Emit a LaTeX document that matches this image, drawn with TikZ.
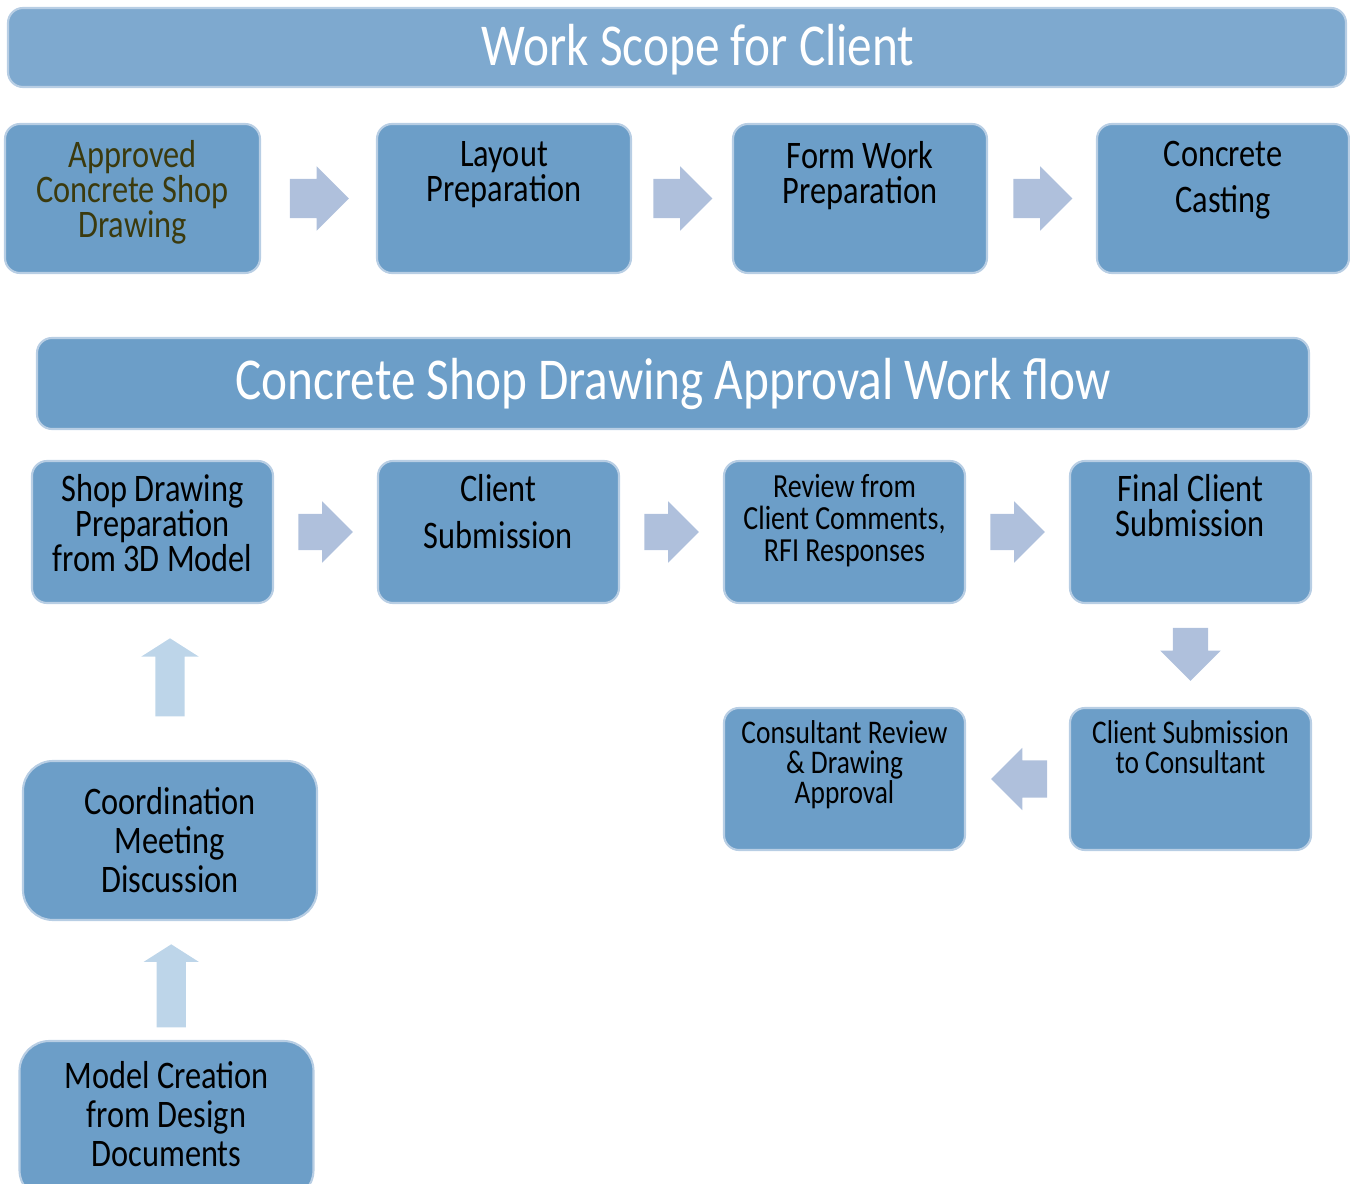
\documentclass[tikz,border=0pt]{standalone}
\usepackage{fontspec}
\setmainfont{Carlito}[FakeStretch=0.83]
\usetikzlibrary{shapes.arrows, positioning, calc}

\definecolor{boxblue}{RGB}{108,158,200}
\definecolor{barblue}{RGB}{126,169,207}
\definecolor{edgeblue}{RGB}{184,206,228}
\definecolor{arrowgrey}{RGB}{175,192,220}
\definecolor{arrowpale}{RGB}{189,213,233}
\definecolor{drawingolive}{RGB}{59,58,14}

\tikzset{
  box/.style={rectangle, rounded corners=0.15cm, fill=boxblue, draw=edgeblue, line width=0.6pt, inner sep=0},
  titlebar/.style={box, fill=barblue},
  toprow/.style={box, minimum width=2.54cm, minimum height=1.49cm},
  flowbox/.style={box, minimum width=2.41cm, minimum height=1.42cm},
  bigbox/.style={box, rounded corners=0.3cm, minimum width=2.94cm, minimum height=1.59cm},
  titletxt/.style={inner sep=0, text=white, font=\fontsize{16.9}{18}\selectfont},
  txt/.style={align=center, inner sep=0, font=\fontsize{11.1}{9.9}\selectfont},
  bigtxt/.style={txt, font=\fontsize{11.1}{11.1}\selectfont},
  smalltxt/.style={txt, font=\fontsize{9.6}{9.1}\selectfont},
  tinytxt/.style={txt, font=\fontsize{9.4}{8.5}\selectfont},
  bigarrow/.style={single arrow, fill=arrowgrey, inner sep=0.19cm, single arrow head extend=0.125cm, minimum height=0.59cm, xshift=-0.09cm},
  flowarrow/.style={single arrow, fill=arrowgrey, inner sep=0.175cm, single arrow head extend=0.125cm, minimum height=0.52cm},
  uparrow/.style={single arrow, fill=arrowpale, inner sep=0.14cm, single arrow head extend=0.14cm, single arrow tip angle=115, shape border rotate=90}
}

\begin{document}
\begin{tikzpicture}
\useasboundingbox (0,0) rectangle (13.5,-11.84);

% work scope row
\node[titlebar, minimum width=13.38cm, minimum height=0.79cm] (scope) at (6.77,-0.475) {};
\node[titletxt] at ($(scope.center)+(0.21,-0.02)$) {Work Scope for Client};

\node[toprow, minimum width=2.55cm] (asd) at (1.325,-1.985) {};
\node[toprow] (lay) at (5.04,-1.985) {};
\node[toprow] (form) at (8.60,-1.985) {};
\node[toprow, minimum width=2.52cm] (cast) at (12.23,-1.985) {};
\node[txt, text=drawingolive, below=0.17cm] at (asd.north) {Approved\\Concrete Shop\\Drawing};
\node[txt, below=0.18cm] at (lay.north) {Layout\\Preparation};
\node[txt, below=0.18cm] at (form.north) {Form Work\\Preparation};
\node[txt, below=0.18cm] at (cast.north) {Concrete\\[3pt]Casting};

\node[bigarrow] (s1) at ($(asd.east)!0.5!(lay.west)$) {};
\node[bigarrow] (s2) at ($(lay.east)!0.5!(form.west)$) {};
\node[bigarrow] (s3) at ($(form.east)!0.5!(cast.west)$) {};

% approval work flow
\node[titlebar, fill=boxblue, minimum width=12.72cm, minimum height=0.91cm] (flow) at (6.73,-3.835) {};
\node[titletxt] at (flow.center) {Concrete Shop Drawing Approval Work flow};

\node[flowbox] (spd) at (1.525,-5.32) {};
\node[flowbox] (csub) at (4.985,-5.32) {};
\node[flowbox] (rev) at (8.445,-5.32) {};
\node[flowbox] (fin) at (11.905,-5.32) {};
\node[flowbox] (cons) at (8.445,-7.79) {};
\node[flowbox] (csc) at (11.905,-7.79) {};
\node[txt, below=0.14cm] at (spd.north) {Shop Drawing\\Preparation\\from 3D Model};
\node[txt, below=0.14cm] at (csub.north) {Client\\[3.4pt]Submission};
\node[smalltxt, below=0.14cm] at (rev.north) {Review from\\Client Comments,\\RFI Responses};
\node[txt, below=0.14cm] at (fin.north) {Final Client\\Submission};
\node[tinytxt, below=0.13cm] at (csc.north) {Client Submission\\to Consultant};
\node[tinytxt, below=0.13cm] at (cons.north) {Consultant Review\\\& Drawing\\Approval};

\node[flowarrow, xshift=-0.09cm] (f1) at ($(spd.east)!0.5!(csub.west)$) {};
\node[flowarrow, xshift=-0.09cm] (f2) at ($(csub.east)!0.5!(rev.west)$) {};
\node[flowarrow, xshift=-0.09cm] (f3) at ($(rev.east)!0.5!(fin.west)$) {};
\node[flowarrow, inner sep=0.17cm, shape border rotate=270, yshift=0.1cm] (f4) at ($(fin.south)!0.5!(csc.north)$) {};
\node[flowarrow, inner sep=0.18cm, minimum height=0.53cm, shape border rotate=180, xshift=0.11cm] (f5) at ($(csc.west)!0.5!(cons.east)$) {};

% left column
\node[bigbox] (coord) at (1.70,-8.405) {};
\node[bigbox] (model) at (1.665,-11.205) {};
\node[bigtxt, below=0.27cm] at (coord.north) {Coordination\\Meeting\\Discussion};
\node[bigtxt, below=0.21cm] at (model.north) {Model Creation\\from Design\\Documents};

\node[uparrow, minimum height=0.78cm] (u1) at ($(coord.north)!0.5!(coord.north |- spd.south)$) {};
\node[uparrow, minimum height=0.83cm, single arrow head extend=0.13cm] (u2) at ($(coord.south)!0.5!(model.north)+(0.03,-0.10)$) {};
\end{tikzpicture}
\end{document}
